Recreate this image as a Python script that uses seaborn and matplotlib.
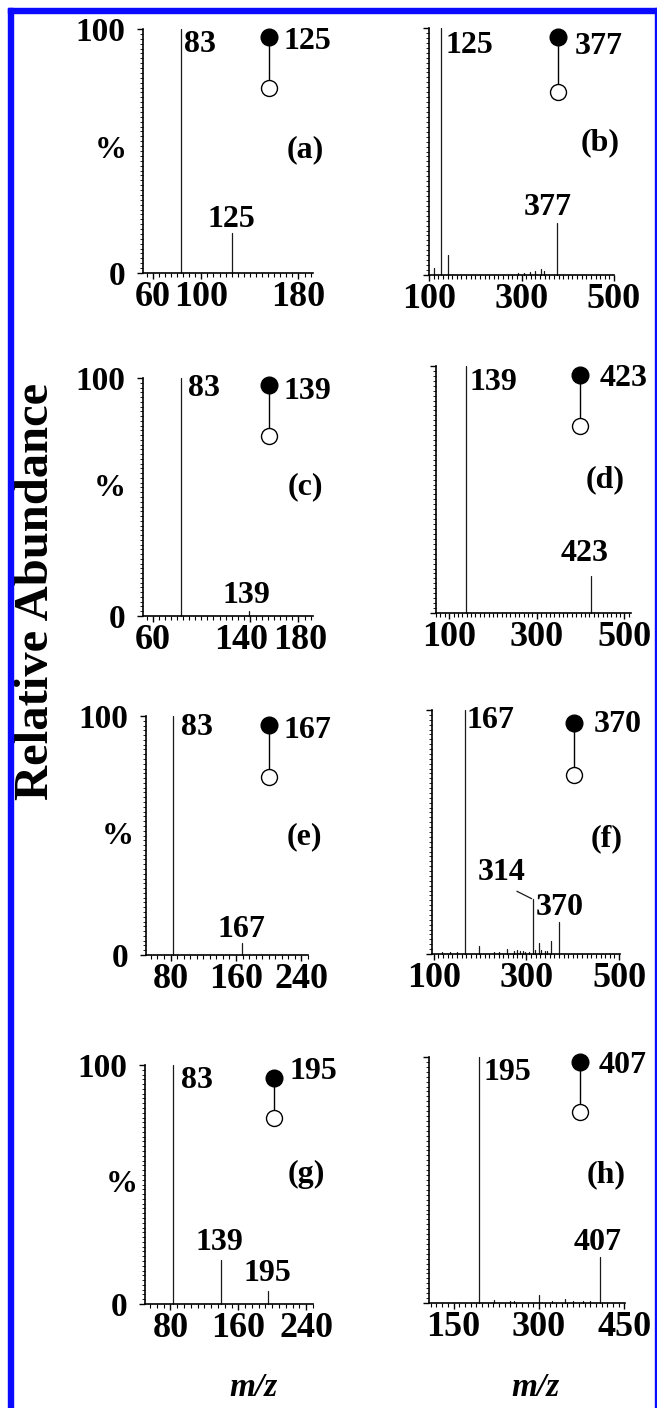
import matplotlib
matplotlib.use("Agg")
import matplotlib.pyplot as plt
import matplotlib.transforms as mtransforms
from matplotlib.patches import Rectangle
from matplotlib.ticker import MultipleLocator
import pandas as pd
import seaborn as sns

# ---------------- spectra: m/z and relative abundance (%) ----------------
mz_a = [83, 125]
ab_a = [100, 16.5]

mz_b = [111, 125, 141, 292, 305, 318, 330, 342, 348, 377]
ab_b = [2.7, 100, 8, 0.8, 1.0, 1.2, 1.5, 2.5, 1.5, 21]

mz_c = [83, 139]
ab_c = [100, 2.0]

mz_d = [139, 423]
ab_d = [100, 15]

mz_e = [83, 167]
ab_e = [100, 5]

mz_f = [118, 135, 150, 167, 198, 229, 240, 259, 274, 279, 287, 292, 297,
        305, 314, 319, 326, 332, 339, 344, 352, 370]
ab_f = [0.7, 1, 1, 100, 3.1, 1, 1, 2, 1.4, 1.8, 1.4, 1.4, 1,
        1, 22.4, 1.5, 4.5, 1.5, 1.4, 1.4, 5.5, 13.2]

mz_g = [83, 139, 195]
ab_g = [100, 18.4, 5.6]

mz_h = [195, 221, 250, 256, 300, 322, 345, 360, 377, 389, 407]
ab_h = [100, 1.4, 1, 0.7, 3.4, 1, 1.5, 1, 1, 1, 18.9]

# precursor ion of each spectrum
precursors = {"a": 125, "b": 377, "c": 139, "d": 423,
              "e": 167, "f": 370, "g": 195, "h": 407}

# x-axis tick values per panel
ticks_a = [60, 100, 180]
ticks_b = [100, 300, 500]
ticks_c = [60, 140, 180]
ticks_d = [100, 300, 500]
ticks_e = [80, 160, 240]
ticks_f = [100, 300, 500]
ticks_g = [80, 160, 240]
ticks_h = [150, 300, 450]

spectra = {
    "a": (mz_a, ab_a, ticks_a), "b": (mz_b, ab_b, ticks_b),
    "c": (mz_c, ab_c, ticks_c), "d": (mz_d, ab_d, ticks_d),
    "e": (mz_e, ab_e, ticks_e), "f": (mz_f, ab_f, ticks_f),
    "g": (mz_g, ab_g, ticks_g), "h": (mz_h, ab_h, ticks_h),
}

# ---------------- layout (pixels on a 657 x 1408 canvas) ----------------
W, H = 657, 1408
layout = {
    # box = (x0, x1, ytop, ybot); icon = (x, y filled, y open, label x, label y) in axes fraction
    "a": dict(box=(143, 313, 29, 273), xlim=(52, 192), minor=5, left=True,
              icon=(0.741, 0.967, 0.758, 0.824, 0.947), tag=(0.953, 0.504), pct=(-0.188, 0.504),
              side=[(83, 3, -23)], top=[(125, 0, 6)]),
    "b": dict(box=(429, 614, 28, 275), xlim=(100, 500), minor=10, left=False,
              icon=(0.696, 0.965, 0.742, 0.789, 0.924), tag=(0.924, 0.534),
              side=[(125, 5, -25)], top=[(377, -9, 8)]),
    "c": dict(box=(143, 313, 378, 616), xlim=(52, 192), minor=5, left=True,
              icon=(0.743, 0.970, 0.756, 0.824, 0.942), tag=(0.957, 0.543), pct=(-0.194, 0.534),
              side=[(83, 7, -18)], top=[(139, -2, 8)], tickshift={140: -9, 180: 2}),
    "d": dict(box=(436, 631, 366, 613), xlim=(70, 515), minor=10, left=False,
              icon=(0.738, 0.964, 0.757, 0.841, 0.951), tag=(0.867, 0.538),
              side=[(139, 3, -24)], top=[(423, -6, 15)]),
    "e": dict(box=(146, 308, 716, 955), xlim=(50, 248), minor=8, left=True,
              icon=(0.761, 0.962, 0.746, 0.846, 0.940), tag=(0.980, 0.495), pct=(-0.173, 0.495),
              side=[(83, 8, -19)], top=[(167, 0, 6)]),
    "f": dict(box=(432, 620, 710, 954), xlim=(96, 502), minor=10, left=False,
              icon=(0.757, 0.947, 0.734, 0.862, 0.940), tag=(0.929, 0.474),
              side=[(167, 2, -18)], top=[(370, 1, 7)], leader=[(314, -31, 19)]),
    "g": dict(box=(145, 313, 1065, 1304), xlim=(50, 248), minor=8, left=True,
              icon=(0.768, 0.944, 0.777, 0.863, 0.972), tag=(0.960, 0.540), pct=(-0.139, 0.498),
              side=[(83, 8, -23)], top=[(139, -1, 10), (195, -1, 10)]),
    "h": dict(box=(429, 625, 1057, 1303), xlim=(107, 451), minor=10, left=False,
              icon=(0.770, 0.981, 0.778, 0.864, 0.967), tag=(0.906, 0.520),
              side=[(195, 4, -23)], top=[(407, -2, 7)]),
}

STICK = "#1a1a1a"
LABEL_FS = 23

sns.set_style("ticks")
plt.rcParams["font.family"] = ["Liberation Serif", "DejaVu Serif"]
plt.rcParams["font.weight"] = "bold"
plt.rcParams["text.color"] = "black"
plt.rcParams["axes.labelcolor"] = "black"
plt.rcParams["axes.edgecolor"] = "black"
plt.rcParams["xtick.color"] = "black"
plt.rcParams["ytick.color"] = "black"

fig = plt.figure(figsize=(W / 100, H / 100), dpi=100)
fig.patch.set_facecolor("white")


def box_to_rect(x0, x1, ytop, ybot):
    return [x0 / W, 1 - ybot / H, (x1 - x0) / W, (ybot - ytop) / H]


for key, (mz, ab, ticks) in spectra.items():
    L = layout[key]
    ax = fig.add_axes(box_to_rect(*L["box"]))
    ax.patch.set_alpha(0)

    # each peak becomes a vertical stick from the baseline to its abundance
    rows = []
    for i, (m, a) in enumerate(zip(mz, ab)):
        rows.append({"mz": m, "ab": 0.0, "peak": i})
        rows.append({"mz": m, "ab": a, "peak": i})
    df = pd.DataFrame(rows)
    sns.lineplot(data=df, x="mz", y="ab", units="peak", estimator=None, sort=False,
                 color=STICK, linewidth=0.9, ax=ax, legend=False)
    for ln in ax.lines:
        ln.set_clip_on(False)

    ax.set_xlim(*L["xlim"])
    ax.set_ylim(0, 100)
    ax.set_xlabel("")
    ax.set_ylabel("")
    sns.despine(ax=ax)
    for s in ("left", "bottom"):
        ax.spines[s].set_linewidth(1.2)

    ax.set_xticks(ticks)
    ax.set_xticklabels([str(t) for t in ticks], fontsize=26, fontweight="bold", color="black")
    ax.xaxis.set_minor_locator(MultipleLocator(L["minor"]))
    ax.tick_params(axis="x", which="major", length=4, width=1.0, pad=1.5, direction="out")
    ax.tick_params(axis="x", which="minor", length=3, width=0.8, direction="out")

    ax.set_yticks([0, 100])
    if L["left"]:
        ax.set_yticklabels(["0", "100"], fontsize=24, fontweight="bold", color="black")
    else:
        ax.set_yticklabels([])
    ax.yaxis.set_minor_locator(MultipleLocator(2))
    ax.tick_params(axis="y", which="major", length=4, width=1.0, pad=9, direction="out")
    ax.tick_params(axis="y", which="minor", length=2.5, width=0.6, direction="out")

    # nudge crowded tick labels sideways (pixels)
    for t, lab in zip(ticks, ax.get_xticklabels()):
        dx = L.get("tickshift", {}).get(t, 0)
        if dx:
            lab.set_transform(lab.get_transform() +
                              mtransforms.ScaledTranslation(dx / 100, 0, fig.dpi_scale_trans))

    peak_height = dict(zip(mz, ab))

    # labels beside the base peak
    for m, dx, dy in L["side"]:
        ax.annotate(str(m), xy=(m, peak_height[m]), xytext=(dx, dy), textcoords="offset pixels",
                    ha="left", va="baseline", fontsize=LABEL_FS, annotation_clip=False)
    # labels centred above smaller peaks
    for m, dx, dy in L["top"]:
        ax.annotate(str(m), xy=(m, peak_height[m]), xytext=(dx, dy), textcoords="offset pixels",
                    ha="center", va="baseline", fontsize=LABEL_FS, annotation_clip=False)
    # labels joined to their peak by a leader line
    for m, dx, dy in L.get("leader", []):
        ax.annotate(str(m), xy=(m, peak_height[m]), xytext=(dx, dy), textcoords="offset pixels",
                    ha="center", va="baseline", fontsize=LABEL_FS, annotation_clip=False,
                    arrowprops=dict(arrowstyle="-", color=STICK, lw=0.9,
                                    relpos=(0.65, 0.0), shrinkA=1, shrinkB=1))

    # precursor -> fragment icon
    ix, yf, yo, lx, ly = L["icon"]
    ax.plot([ix, ix], [yf, yo], transform=ax.transAxes, color="black", lw=1.0, clip_on=False)
    ax.plot([ix], [yf], "o", ms=12, mfc="black", mec="black", transform=ax.transAxes, clip_on=False)
    ax.plot([ix], [yo], "o", ms=11.5, mfc="white", mec="black", mew=1.0,
            transform=ax.transAxes, clip_on=False)
    ax.text(lx, ly, str(precursors[key]), transform=ax.transAxes, ha="left", va="center",
            fontsize=LABEL_FS)

    tx, ty = L["tag"]
    ax.text(tx, ty, f"({key})", transform=ax.transAxes, ha="center", va="center",
            fontsize=LABEL_FS)
    if "pct" in L:
        px, py = L["pct"]
        ax.text(px, py, "%", transform=ax.transAxes, ha="center", va="center", fontsize=LABEL_FS)

# shared axis titles
fig.text(36 / W, 1 - 591 / H, "Relative Abundance", rotation=90, ha="center", va="center",
         fontsize=35, fontweight="bold")
for xc in (253, 535):
    fig.text(xc / W, 1 - 1387 / H, "m/z", ha="center", va="center", fontsize=24,
             fontweight="bold", fontstyle="italic")

# blue frame
BLUE = "#0a0aff"
fig.patches.extend([
    Rectangle((8 / W, 0), 5 / W, (H - 8) / H, transform=fig.transFigure, color=BLUE, zorder=10),
    Rectangle((8 / W, 1 - 13 / H), (W - 8) / W, 5 / H, transform=fig.transFigure, color=BLUE, zorder=10),
    Rectangle((655 / W, 0), 2 / W, (H - 8) / H, transform=fig.transFigure, color=BLUE, zorder=10),
])

fig.savefig("out.png", dpi=100, facecolor="white")
